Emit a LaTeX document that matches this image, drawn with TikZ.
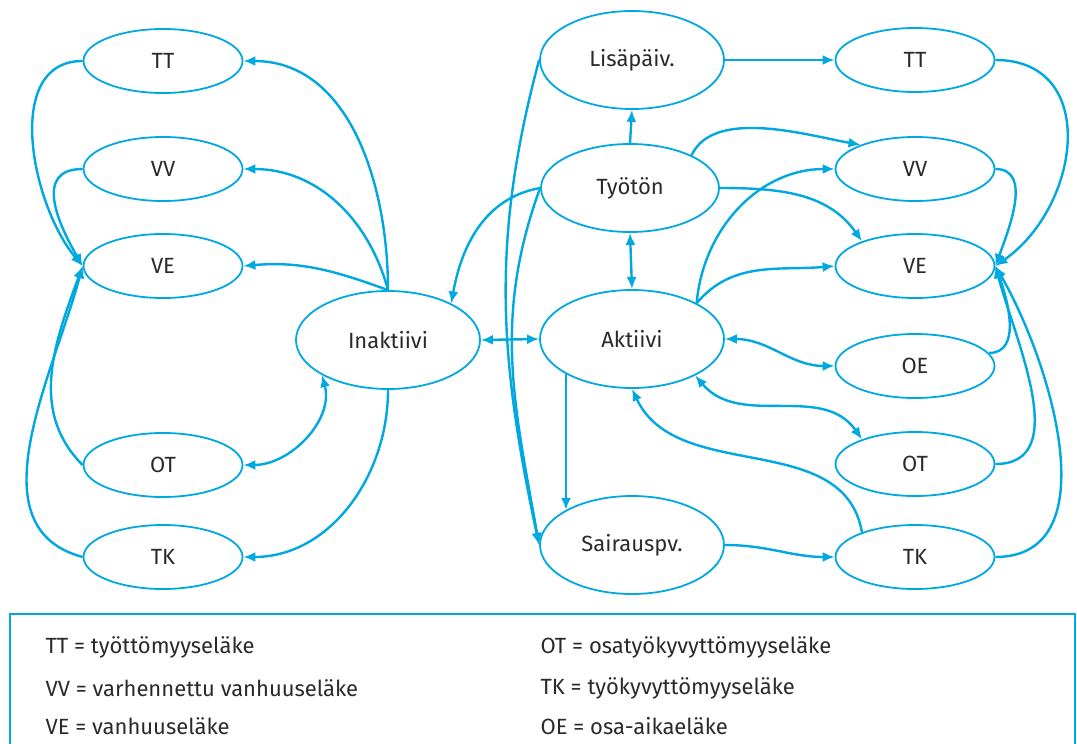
\documentclass[tikz,border=0pt]{standalone}
\usepackage{fontspec}
\setmainfont{Fira Sans}
\usepackage{tikz}
\usetikzlibrary{arrows.meta, shapes.geometric}

\definecolor{pblue}{HTML}{00A8E1}
\definecolor{ink}{HTML}{2A2A2A}

\tikzset{
  state/.style={ellipse, draw=pblue, line width=1.8pt, text=ink,
    font=\fontsize{22}{26}\selectfont, inner sep=0pt},
  small/.style={state, minimum width=159pt, minimum height=64pt},
  big/.style={state, minimum width=184pt, minimum height=98pt},
  arr/.style={draw=pblue, line width=2.4pt, -{Latex[length=12pt,width=10pt]}},
  arrboth/.style={draw=pblue, line width=2.4pt, {Latex[length=12pt,width=10pt]}-{Latex[length=12pt,width=10pt]}},
  legtext/.style={anchor=west, text=ink, font=\fontsize{22}{26}\selectfont}
}

\begin{document}
\begin{tikzpicture}[x=1pt, y=-1pt]
  \useasboundingbox (0,0) rectangle (1077,744);

  % 1) left column
  \node[small] (ttl) at (163,61)  {TT};
  \node[small] (vvl) at (163,169) {VV};
  \node[small] (vel) at (163,266) {VE};
  \node[small] (otl) at (163,465) {OT};
  \node[small] (tkl) at (163,557) {TK};

  % 2) middle states
  \node[big] (inak) at (388,340) {Inaktiivi};
  \node[big] (lis)  at (632,60)  {Lisäpäiv.};
  \node[big, minimum width=178pt, minimum height=88pt] (tyo) at (630,188) {Työtön};
  \node[big] (akt)  at (632,339) {Aktiivi};
  \node[big] (sai)  at (632,545) {Sairauspv.};

  % 3) right column
  \node[small] (ttr) at (915,60)  {TT};
  \node[small] (vvr) at (915,169) {VV};
  \node[small] (ver) at (915,266) {VE};
  \node[small] (oe)  at (915,366) {OE};
  \node[small] (otr) at (915,464) {OT};
  \node[small] (tkr) at (915,557) {TK};

  % Inaktiivi -> left pensions
  \draw[arr] (inak.north) to[out=90,in=0] (ttl.east);
  \draw[arr] (inak.north) to[out=105,in=0] (vvl.east);
  \draw[arr] (inak.north) to[out=160,in=5] (vel.east);
  \draw[arrboth] (otl.east) to[out=0,in=-75] (inak.208);
  \draw[arr] (inak.south) to[out=-90,in=0] (tkl.east);

  % left pensions -> VE
  \draw[arr] (ttl.west) to[out=180,in=130] (vel.west);
  \draw[arr] (vvl.west) to[out=180,in=120,looseness=1.3] (vel.west);
  \draw[arr] (otl.west) to[out=135,in=-110] (vel.west);
  \draw[arr] (tkl.west) to[out=165,in=-105] (vel.west);

  % middle
  \draw[arrboth] (inak.east) -- (akt.west);
  \draw[arr] (tyo.west) to[out=190,in=80] (inak.30);
  \draw[arr] (lis.west) to[out=255,in=102] (sai.west);
  \draw[arr] (tyo.west) to[out=250,in=100] (sai.west);
  \draw[arr] (tyo.north) -- (lis.south);
  \draw[arrboth] (tyo.south) -- (akt.north);
  \draw[arr] (akt.208) -- (sai.152);

  % to the right column
  \draw[arr] (lis.east) -- (ttr.west);
  \draw[arr] (tyo.28) to[out=65,in=170,looseness=0.8] (vvr.156);
  \draw[arr] (tyo.east) to[out=0,in=125] (ver.155);
  \draw[arr] (akt.29) to[out=85,in=180] (vvr.west);
  \draw[arr] (akt.29) to[out=50,in=185] (ver.west);
  \draw[arrboth] (akt.east) to[out=0,in=180] (oe.west);
  \draw[arrboth] (akt.330) to[out=-50,in=125] (otr.155);
  \draw[arr] (tkr.155) to[out=100,in=-65] (akt.south);
  \draw[arr] (sai.east) to[out=0,in=180] (tkr.west);

  % right pensions -> VE
  \draw[arr] (ttr.east) to[out=0,in=35,looseness=1.3] (ver.east);
  \draw[arr] (vvr.east) to[out=0,in=70] (ver.east);
  \draw[arr] (oe.10) to[out=0,in=-70] (ver.east);
  \draw[arr] (otr.east) to[out=0,in=-75] (ver.east);
  \draw[arr] (tkr.east) to[out=0,in=-60] (ver.east);

  % legend
  \draw[pblue, line width=2pt] (10,744) -- (10,614) -- (1075,614) -- (1075,744);
  \node[legtext] (l1) at (42,647) {TT = työttömyyseläke};
  \node[legtext] (l2) at (42,688) {VV = varhennettu vanhuuseläke};
  \node[legtext] (l3) at (42,726) {VE = vanhuuseläke};
  \node[legtext] (r1) at (537,647) {OT = osatyökyvyttömyyseläke};
  \node[legtext] (r2) at (537,688) {TK = työkyvyttömyyseläke};
  \node[legtext] (r3) at (537,726) {OE = osa-aikaeläke};
\end{tikzpicture}
\end{document}
